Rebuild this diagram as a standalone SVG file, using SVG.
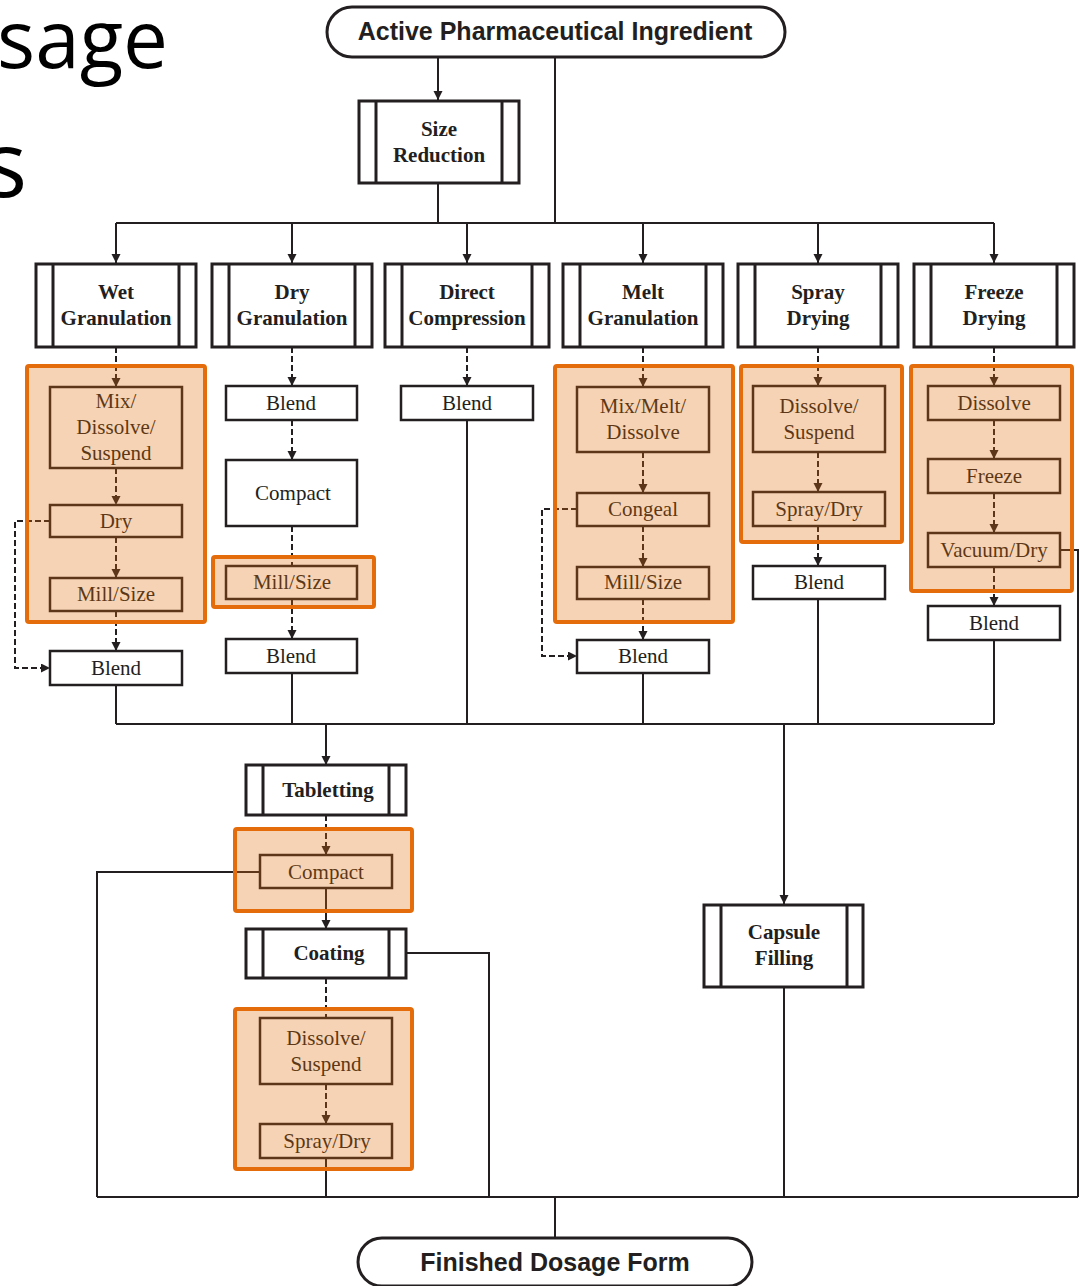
<svg xmlns="http://www.w3.org/2000/svg" width="1080" height="1286" viewBox="0 0 1080 1286">
<style>
.bg{fill:#ffffff}
.title{font-family:"Open Sans","Noto Sans",sans-serif;fill:#000000}
.pill{fill:#ffffff;stroke:#231f20;stroke-width:3}
.pt{font-family:"Liberation Sans",Arial,sans-serif;font-weight:bold;font-size:25px;fill:#231f20;text-anchor:middle}
.pbox{fill:#ffffff;stroke:#231f20;stroke-width:3}
.band{fill:none;stroke:#231f20;stroke-width:3}
.bt{font-family:"Liberation Serif","Times New Roman",serif;font-weight:bold;font-size:21px;fill:#231f20;text-anchor:middle}
.sbox{fill:#ffffff;stroke:#231f20;stroke-width:2.5}
.st{font-family:"Liberation Serif","Times New Roman",serif;font-size:21px;fill:#231f20;text-anchor:middle}
.w{fill:none;stroke:#231f20;stroke-width:2}
.d{fill:none;stroke:#231f20;stroke-width:2;stroke-dasharray:6 3}
.hl{fill:#e46c0a;fill-opacity:0.3;stroke:#e46c0a;stroke-width:4}
</style>
<defs>
<marker id="ah" markerUnits="userSpaceOnUse" markerWidth="10" markerHeight="10" refX="9" refY="4.5" orient="auto">
<path d="M0,0 L9,4.5 L0,9 z" fill="#231f20"/>
</marker>
</defs>
<rect class="bg" x="0" y="0" width="1080" height="1286"/>

<g id="slide-title">
<text class="title" x="168" y="68" font-size="80" text-anchor="end">sage</text>
<text class="title" x="27" y="197" font-size="92" text-anchor="end">s</text>
</g>

<g id="connectors">
<path class="w" d="M438,57 V100" marker-end="url(#ah)"/>
<path class="w" d="M555,57 V223"/>
<path class="w" d="M438,183 V223"/>
<path class="w" d="M116,223 H994"/>
<path class="w" d="M116,223 V263" marker-end="url(#ah)"/>
<path class="w" d="M292,223 V263" marker-end="url(#ah)"/>
<path class="w" d="M467,223 V263" marker-end="url(#ah)"/>
<path class="w" d="M643,223 V263" marker-end="url(#ah)"/>
<path class="w" d="M818,223 V263" marker-end="url(#ah)"/>
<path class="w" d="M994,223 V263" marker-end="url(#ah)"/>

<path class="d" d="M116,347 V387" marker-end="url(#ah)"/>
<path class="d" d="M116,468 V505" marker-end="url(#ah)"/>
<path class="d" d="M116,537 V578" marker-end="url(#ah)"/>
<path class="d" d="M116,611 V651" marker-end="url(#ah)"/>
<path class="d" d="M50,521 H15 V668 H50" marker-end="url(#ah)"/>

<path class="d" d="M292,347 V386" marker-end="url(#ah)"/>
<path class="d" d="M292,420 V460" marker-end="url(#ah)"/>
<path class="d" d="M292,526 V566"/>
<path class="d" d="M292,599 V639" marker-end="url(#ah)"/>

<path class="d" d="M467,347 V386" marker-end="url(#ah)"/>

<path class="d" d="M643,347 V387" marker-end="url(#ah)"/>
<path class="d" d="M643,452 V493" marker-end="url(#ah)"/>
<path class="d" d="M643,526 V567" marker-end="url(#ah)"/>
<path class="d" d="M643,599 V640" marker-end="url(#ah)"/>
<path class="d" d="M577,509 H542 V656 H577" marker-end="url(#ah)"/>

<path class="d" d="M818,347 V386" marker-end="url(#ah)"/>
<path class="d" d="M818,452 V492" marker-end="url(#ah)"/>
<path class="d" d="M818,526 V566" marker-end="url(#ah)"/>

<path class="d" d="M994,347 V386" marker-end="url(#ah)"/>
<path class="d" d="M994,420 V459" marker-end="url(#ah)"/>
<path class="d" d="M994,493 V533" marker-end="url(#ah)"/>
<path class="d" d="M994,567 V606" marker-end="url(#ah)"/>

<path class="w" d="M116,685 V724"/>
<path class="w" d="M292,673 V724"/>
<path class="w" d="M467,420 V724"/>
<path class="w" d="M643,673 V724"/>
<path class="w" d="M818,599 V724"/>
<path class="w" d="M994,640 V724"/>
<path class="w" d="M116,724 H994"/>
<path class="w" d="M326,724 V765" marker-end="url(#ah)"/>
<path class="w" d="M784,724 V904" marker-end="url(#ah)"/>
<path class="w" d="M1060,550 H1078 V1197"/>

<path class="d" d="M326,815 V855" marker-end="url(#ah)"/>
<path class="w" d="M326,888 V929" marker-end="url(#ah)"/>
<path class="w" d="M260,872 H97 V1197"/>
<path class="w" d="M406,953 H489 V1197"/>
<path class="d" d="M326,978 V1018"/>
<path class="d" d="M326,1084 V1124" marker-end="url(#ah)"/>
<path class="w" d="M326,1158 V1197"/>
<path class="w" d="M784,987 V1197"/>
<path class="w" d="M97,1197 H1078"/>
<path class="w" d="M555,1197 V1237"/>
</g>

<g id="api">
<rect class="pill" x="327" y="7" width="458" height="50" rx="25"/>
<text class="pt" x="555" y="40">Active Pharmaceutical Ingredient</text>
</g>

<g id="size-reduction">
<rect class="pbox" x="359" y="101" width="160" height="82"/>
<path class="band" d="M376,101 V183 M502,101 V183"/>
<text class="bt" x="439" y="136">Size</text>
<text class="bt" x="439" y="162">Reduction</text>
</g>

<g id="wet-granulation">
<rect class="pbox" x="36" y="264" width="160" height="83"/>
<path class="band" d="M53,264 V347 M179,264 V347"/>
<text class="bt" x="116" y="299">Wet</text>
<text class="bt" x="116" y="325">Granulation</text>
</g>
<g id="dry-granulation">
<rect class="pbox" x="212" y="264" width="160" height="83"/>
<path class="band" d="M229,264 V347 M355,264 V347"/>
<text class="bt" x="292" y="299">Dry</text>
<text class="bt" x="292" y="325">Granulation</text>
</g>
<g id="direct-compression">
<rect class="pbox" x="385" y="264" width="164" height="83"/>
<path class="band" d="M402,264 V347 M532,264 V347"/>
<text class="bt" x="467" y="299">Direct</text>
<text class="bt" x="467" y="325">Compression</text>
</g>
<g id="melt-granulation">
<rect class="pbox" x="563" y="264" width="160" height="83"/>
<path class="band" d="M580,264 V347 M706,264 V347"/>
<text class="bt" x="643" y="299">Melt</text>
<text class="bt" x="643" y="325">Granulation</text>
</g>
<g id="spray-drying">
<rect class="pbox" x="738" y="264" width="160" height="83"/>
<path class="band" d="M755,264 V347 M881,264 V347"/>
<text class="bt" x="818" y="299">Spray</text>
<text class="bt" x="818" y="325">Drying</text>
</g>
<g id="freeze-drying">
<rect class="pbox" x="914" y="264" width="160" height="83"/>
<path class="band" d="M931,264 V347 M1057,264 V347"/>
<text class="bt" x="994" y="299">Freeze</text>
<text class="bt" x="994" y="325">Drying</text>
</g>

<g id="wet-mix">
<rect class="sbox" x="50" y="387" width="132" height="81"/>
<text class="st" x="116" y="408">Mix/</text>
<text class="st" x="116" y="434">Dissolve/</text>
<text class="st" x="116" y="460">Suspend</text>
</g>
<g id="wet-dry"><rect class="sbox" x="50" y="505" width="132" height="32"/><text class="st" x="116" y="528">Dry</text></g>
<g id="wet-mill"><rect class="sbox" x="50" y="578" width="132" height="33"/><text class="st" x="116" y="601">Mill/Size</text></g>
<g id="wet-blend"><rect class="sbox" x="50" y="651" width="132" height="34"/><text class="st" x="116" y="675">Blend</text></g>

<g id="dry-blend1"><rect class="sbox" x="226" y="386" width="131" height="34"/><text class="st" x="291" y="410">Blend</text></g>
<g id="dry-compact"><rect class="sbox" x="226" y="460" width="131" height="66"/><text class="st" x="293" y="500">Compact</text></g>
<g id="dry-mill"><rect class="sbox" x="226" y="566" width="131" height="33"/><text class="st" x="292" y="589">Mill/Size</text></g>
<g id="dry-blend2"><rect class="sbox" x="226" y="639" width="131" height="34"/><text class="st" x="291" y="663">Blend</text></g>

<g id="direct-blend"><rect class="sbox" x="401" y="386" width="132" height="34"/><text class="st" x="467" y="410">Blend</text></g>

<g id="melt-mix">
<rect class="sbox" x="577" y="387" width="132" height="65"/>
<text class="st" x="643" y="413">Mix/Melt/</text>
<text class="st" x="643" y="439">Dissolve</text>
</g>
<g id="melt-congeal"><rect class="sbox" x="577" y="493" width="132" height="33"/><text class="st" x="643" y="516">Congeal</text></g>
<g id="melt-mill"><rect class="sbox" x="577" y="567" width="132" height="32"/><text class="st" x="643" y="589">Mill/Size</text></g>
<g id="melt-blend"><rect class="sbox" x="577" y="640" width="132" height="33"/><text class="st" x="643" y="663">Blend</text></g>

<g id="spray-dissolve">
<rect class="sbox" x="753" y="386" width="132" height="66"/>
<text class="st" x="819" y="413">Dissolve/</text>
<text class="st" x="819" y="439">Suspend</text>
</g>
<g id="spray-spraydry"><rect class="sbox" x="753" y="492" width="132" height="34"/><text class="st" x="819" y="516">Spray/Dry</text></g>
<g id="spray-blend"><rect class="sbox" x="753" y="566" width="132" height="33"/><text class="st" x="819" y="589">Blend</text></g>

<g id="freeze-dissolve"><rect class="sbox" x="928" y="386" width="132" height="34"/><text class="st" x="994" y="410">Dissolve</text></g>
<g id="freeze-freeze"><rect class="sbox" x="928" y="459" width="132" height="34"/><text class="st" x="994" y="483">Freeze</text></g>
<g id="freeze-vacuum"><rect class="sbox" x="928" y="533" width="132" height="34"/><text class="st" x="994" y="557">Vacuum/Dry</text></g>
<g id="freeze-blend"><rect class="sbox" x="928" y="606" width="132" height="34"/><text class="st" x="994" y="630">Blend</text></g>

<g id="tabletting">
<rect class="pbox" x="246" y="765" width="160" height="50"/>
<path class="band" d="M263,765 V815 M389,765 V815"/>
<text class="bt" x="328" y="797">Tabletting</text>
</g>
<g id="tab-compact"><rect class="sbox" x="260" y="855" width="132" height="33"/><text class="st" x="326" y="879">Compact</text></g>
<g id="coating">
<rect class="pbox" x="246" y="929" width="160" height="49"/>
<path class="band" d="M263,929 V978 M389,929 V978"/>
<text class="bt" x="329" y="960">Coating</text>
</g>
<g id="coat-dissolve">
<rect class="sbox" x="260" y="1018" width="132" height="66"/>
<text class="st" x="326" y="1045">Dissolve/</text>
<text class="st" x="326" y="1071">Suspend</text>
</g>
<g id="coat-spraydry"><rect class="sbox" x="260" y="1124" width="132" height="34"/><text class="st" x="327" y="1148">Spray/Dry</text></g>

<g id="capsule-filling">
<rect class="pbox" x="704" y="905" width="159" height="82"/>
<path class="band" d="M721,905 V987 M847,905 V987"/>
<text class="bt" x="784" y="939">Capsule</text>
<text class="bt" x="784" y="965">Filling</text>
</g>

<g id="finished">
<rect class="pill" x="358" y="1238" width="394" height="48" rx="24"/>
<text class="pt" x="555" y="1271">Finished Dosage Form</text>
</g>

<g id="highlights">
<rect class="hl" x="27" y="366" width="178" height="256" rx="2"/>
<rect class="hl" x="213" y="557" width="161" height="50" rx="2"/>
<rect class="hl" x="555" y="366" width="178" height="256" rx="2"/>
<rect class="hl" x="741" y="366" width="161" height="176" rx="2"/>
<rect class="hl" x="911" y="366" width="161" height="225" rx="2"/>
<rect class="hl" x="235" y="829" width="177" height="82" rx="2"/>
<rect class="hl" x="235" y="1009" width="177" height="160" rx="2"/>
</g>
</svg>
